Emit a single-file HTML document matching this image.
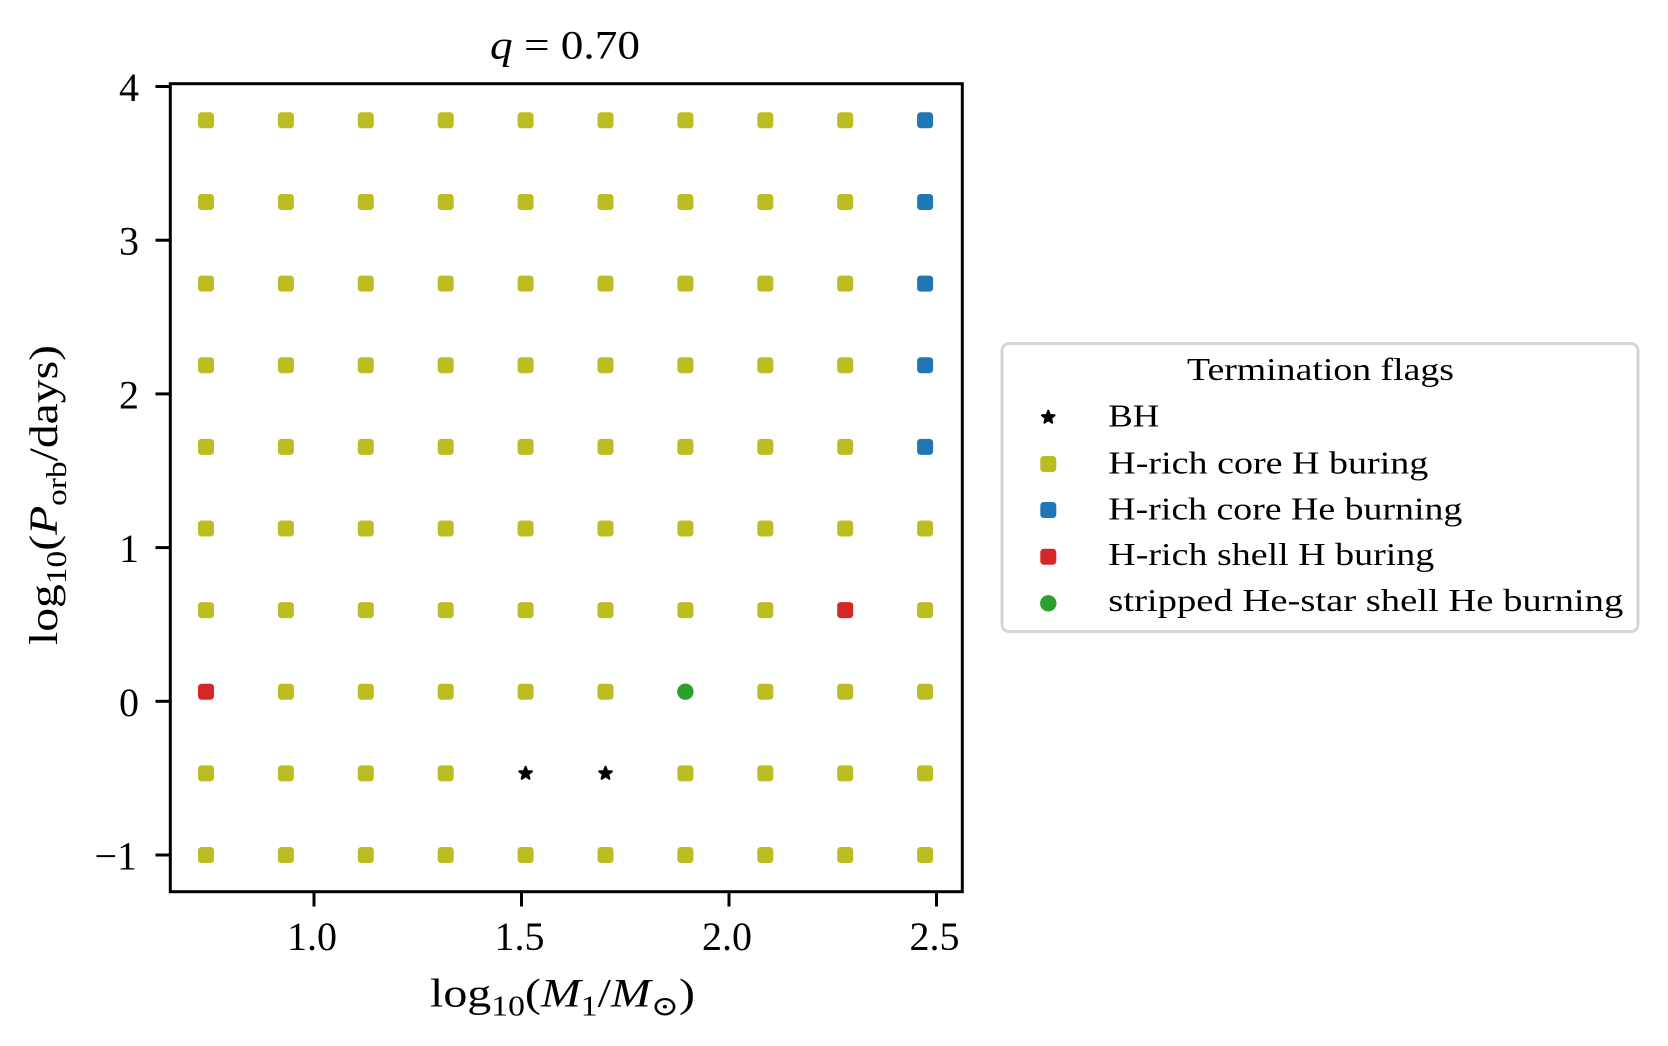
<!DOCTYPE html>
<html>
<head>
<meta charset="utf-8">
<style>
html,body{margin:0;padding:0;background:#fff;}
svg{display:block;}
text{font-family:"Liberation Serif","DejaVu Serif",serif;fill:#000;}
</style>
</head>
<body>
<svg width="1668" height="1046" viewBox="0 0 1668 1046" xmlns="http://www.w3.org/2000/svg">
<rect x="0" y="0" width="1668" height="1046" fill="#fff"/>

<!-- Title -->
<text x="565" y="58.5" font-size="40" text-anchor="middle" textLength="150" lengthAdjust="spacingAndGlyphs"><tspan font-style="italic">q</tspan> = 0.70</text>

<!-- Markers -->
<g id="markers">
<g fill="#bcbd22">
<!-- row 0 y=855 -->
<rect x="198" y="847" width="16" height="16" rx="3.5"/>
<rect x="277.9" y="847" width="16" height="16" rx="3.5"/>
<rect x="357.8" y="847" width="16" height="16" rx="3.5"/>
<rect x="437.7" y="847" width="16" height="16" rx="3.5"/>
<rect x="517.6" y="847" width="16" height="16" rx="3.5"/>
<rect x="597.5" y="847" width="16" height="16" rx="3.5"/>
<rect x="677.4" y="847" width="16" height="16" rx="3.5"/>
<rect x="757.3" y="847" width="16" height="16" rx="3.5"/>
<rect x="837.2" y="847" width="16" height="16" rx="3.5"/>
<rect x="917.1" y="847" width="16" height="16" rx="3.5"/>
<!-- row 1 -->
<rect x="198" y="765.4" width="16" height="16" rx="3.5"/>
<rect x="277.9" y="765.4" width="16" height="16" rx="3.5"/>
<rect x="357.8" y="765.4" width="16" height="16" rx="3.5"/>
<rect x="437.7" y="765.4" width="16" height="16" rx="3.5"/>
<rect x="677.4" y="765.4" width="16" height="16" rx="3.5"/>
<rect x="757.3" y="765.4" width="16" height="16" rx="3.5"/>
<rect x="837.2" y="765.4" width="16" height="16" rx="3.5"/>
<rect x="917.1" y="765.4" width="16" height="16" rx="3.5"/>
<!-- row 2 -->
<rect x="277.9" y="683.7" width="16" height="16" rx="3.5"/>
<rect x="357.8" y="683.7" width="16" height="16" rx="3.5"/>
<rect x="437.7" y="683.7" width="16" height="16" rx="3.5"/>
<rect x="517.6" y="683.7" width="16" height="16" rx="3.5"/>
<rect x="597.5" y="683.7" width="16" height="16" rx="3.5"/>
<rect x="757.3" y="683.7" width="16" height="16" rx="3.5"/>
<rect x="837.2" y="683.7" width="16" height="16" rx="3.5"/>
<rect x="917.1" y="683.7" width="16" height="16" rx="3.5"/>
<!-- row 3 -->
<rect x="198" y="602.1" width="16" height="16" rx="3.5"/>
<rect x="277.9" y="602.1" width="16" height="16" rx="3.5"/>
<rect x="357.8" y="602.1" width="16" height="16" rx="3.5"/>
<rect x="437.7" y="602.1" width="16" height="16" rx="3.5"/>
<rect x="517.6" y="602.1" width="16" height="16" rx="3.5"/>
<rect x="597.5" y="602.1" width="16" height="16" rx="3.5"/>
<rect x="677.4" y="602.1" width="16" height="16" rx="3.5"/>
<rect x="757.3" y="602.1" width="16" height="16" rx="3.5"/>
<rect x="917.1" y="602.1" width="16" height="16" rx="3.5"/>
<!-- row 4 -->
<rect x="198" y="520.5" width="16" height="16" rx="3.5"/>
<rect x="277.9" y="520.5" width="16" height="16" rx="3.5"/>
<rect x="357.8" y="520.5" width="16" height="16" rx="3.5"/>
<rect x="437.7" y="520.5" width="16" height="16" rx="3.5"/>
<rect x="517.6" y="520.5" width="16" height="16" rx="3.5"/>
<rect x="597.5" y="520.5" width="16" height="16" rx="3.5"/>
<rect x="677.4" y="520.5" width="16" height="16" rx="3.5"/>
<rect x="757.3" y="520.5" width="16" height="16" rx="3.5"/>
<rect x="837.2" y="520.5" width="16" height="16" rx="3.5"/>
<rect x="917.1" y="520.5" width="16" height="16" rx="3.5"/>
<!-- row 5 -->
<rect x="198" y="438.9" width="16" height="16" rx="3.5"/>
<rect x="277.9" y="438.9" width="16" height="16" rx="3.5"/>
<rect x="357.8" y="438.9" width="16" height="16" rx="3.5"/>
<rect x="437.7" y="438.9" width="16" height="16" rx="3.5"/>
<rect x="517.6" y="438.9" width="16" height="16" rx="3.5"/>
<rect x="597.5" y="438.9" width="16" height="16" rx="3.5"/>
<rect x="677.4" y="438.9" width="16" height="16" rx="3.5"/>
<rect x="757.3" y="438.9" width="16" height="16" rx="3.5"/>
<rect x="837.2" y="438.9" width="16" height="16" rx="3.5"/>
<!-- row 6 -->
<rect x="198" y="357.2" width="16" height="16" rx="3.5"/>
<rect x="277.9" y="357.2" width="16" height="16" rx="3.5"/>
<rect x="357.8" y="357.2" width="16" height="16" rx="3.5"/>
<rect x="437.7" y="357.2" width="16" height="16" rx="3.5"/>
<rect x="517.6" y="357.2" width="16" height="16" rx="3.5"/>
<rect x="597.5" y="357.2" width="16" height="16" rx="3.5"/>
<rect x="677.4" y="357.2" width="16" height="16" rx="3.5"/>
<rect x="757.3" y="357.2" width="16" height="16" rx="3.5"/>
<rect x="837.2" y="357.2" width="16" height="16" rx="3.5"/>
<!-- row 7 -->
<rect x="198" y="275.6" width="16" height="16" rx="3.5"/>
<rect x="277.9" y="275.6" width="16" height="16" rx="3.5"/>
<rect x="357.8" y="275.6" width="16" height="16" rx="3.5"/>
<rect x="437.7" y="275.6" width="16" height="16" rx="3.5"/>
<rect x="517.6" y="275.6" width="16" height="16" rx="3.5"/>
<rect x="597.5" y="275.6" width="16" height="16" rx="3.5"/>
<rect x="677.4" y="275.6" width="16" height="16" rx="3.5"/>
<rect x="757.3" y="275.6" width="16" height="16" rx="3.5"/>
<rect x="837.2" y="275.6" width="16" height="16" rx="3.5"/>
<!-- row 8 -->
<rect x="198" y="194" width="16" height="16" rx="3.5"/>
<rect x="277.9" y="194" width="16" height="16" rx="3.5"/>
<rect x="357.8" y="194" width="16" height="16" rx="3.5"/>
<rect x="437.7" y="194" width="16" height="16" rx="3.5"/>
<rect x="517.6" y="194" width="16" height="16" rx="3.5"/>
<rect x="597.5" y="194" width="16" height="16" rx="3.5"/>
<rect x="677.4" y="194" width="16" height="16" rx="3.5"/>
<rect x="757.3" y="194" width="16" height="16" rx="3.5"/>
<rect x="837.2" y="194" width="16" height="16" rx="3.5"/>
<!-- row 9 -->
<rect x="198" y="112.3" width="16" height="16" rx="3.5"/>
<rect x="277.9" y="112.3" width="16" height="16" rx="3.5"/>
<rect x="357.8" y="112.3" width="16" height="16" rx="3.5"/>
<rect x="437.7" y="112.3" width="16" height="16" rx="3.5"/>
<rect x="517.6" y="112.3" width="16" height="16" rx="3.5"/>
<rect x="597.5" y="112.3" width="16" height="16" rx="3.5"/>
<rect x="677.4" y="112.3" width="16" height="16" rx="3.5"/>
<rect x="757.3" y="112.3" width="16" height="16" rx="3.5"/>
<rect x="837.2" y="112.3" width="16" height="16" rx="3.5"/>
</g>
<g fill="#1f77b4">
<rect x="917.1" y="438.9" width="16" height="16" rx="3.5"/>
<rect x="917.1" y="357.2" width="16" height="16" rx="3.5"/>
<rect x="917.1" y="275.6" width="16" height="16" rx="3.5"/>
<rect x="917.1" y="194" width="16" height="16" rx="3.5"/>
<rect x="917.1" y="112.3" width="16" height="16" rx="3.5"/>
</g>
<g fill="#d62728">
<rect x="198" y="683.7" width="16" height="16" rx="3.5"/>
<rect x="837.2" y="602.1" width="16" height="16" rx="3.5"/>
</g>
<circle cx="685.4" cy="691.7" r="8.2" fill="#2ca02c"/>
<!-- BH stars -->
<g fill="#000" stroke="#000" stroke-width="2.2" stroke-linejoin="round">
<polygon transform="translate(525.6,773.4)" points="0,-6.5 1.6,-2.2 6.2,-2.0 2.6,0.8 3.8,5.3 0,2.7 -3.8,5.3 -2.6,0.8 -6.2,-2.0 -1.6,-2.2"/>
<polygon transform="translate(605.5,773.4)" points="0,-6.5 1.6,-2.2 6.2,-2.0 2.6,0.8 3.8,5.3 0,2.7 -3.8,5.3 -2.6,0.8 -6.2,-2.0 -1.6,-2.2"/>
</g>
</g>

<!-- Axes frame -->
<rect x="170.3" y="83.7" width="792" height="808" fill="none" stroke="#000" stroke-width="3"/>

<!-- Ticks -->
<g stroke="#000" stroke-width="3">
<line x1="155.5" y1="86.5" x2="170.3" y2="86.5"/>
<line x1="155.5" y1="240.2" x2="170.3" y2="240.2"/>
<line x1="155.5" y1="393.9" x2="170.3" y2="393.9"/>
<line x1="155.5" y1="547.6" x2="170.3" y2="547.6"/>
<line x1="155.5" y1="701.3" x2="170.3" y2="701.3"/>
<line x1="155.5" y1="855" x2="170.3" y2="855"/>
<line x1="314" y1="891.7" x2="314" y2="906.5"/>
<line x1="521.5" y1="891.7" x2="521.5" y2="906.5"/>
<line x1="729" y1="891.7" x2="729" y2="906.5"/>
<line x1="936.5" y1="891.7" x2="936.5" y2="906.5"/>
</g>

<!-- Y tick labels -->
<g font-size="40" text-anchor="end">
<text x="139" y="101">4</text>
<text x="139" y="254.7">3</text>
<text x="139" y="408.4">2</text>
<text x="139" y="562.1">1</text>
<text x="139" y="715.8">0</text>
<text x="137" y="869.5">−1</text>
</g>

<!-- X tick labels -->
<g font-size="40" text-anchor="middle">
<text x="312" y="950">1.0</text>
<text x="519.5" y="950">1.5</text>
<text x="727" y="950">2.0</text>
<text x="934.5" y="950">2.5</text>
</g>

<!-- X label -->
<text x="430" y="1006.5" font-size="40" textLength="265" lengthAdjust="spacingAndGlyphs">log<tspan font-size="28" dy="9">10</tspan><tspan dy="-9">(</tspan><tspan font-style="italic">M</tspan><tspan font-size="28" dy="9">1</tspan><tspan dy="-9">/</tspan><tspan font-style="italic">M</tspan><tspan font-size="28" dy="9">⊙</tspan><tspan dy="-9">)</tspan></text>

<!-- Y label -->
<text transform="translate(57,495) rotate(-90)" x="0" y="0" font-size="40" text-anchor="middle" textLength="300" lengthAdjust="spacingAndGlyphs">log<tspan font-size="28" dy="9">10</tspan><tspan dy="-9">(</tspan><tspan font-style="italic">P</tspan><tspan font-size="28" dy="9">orb</tspan><tspan dy="-9">/days)</tspan></text>

<!-- Legend -->
<rect x="1002" y="343.5" width="636" height="288" rx="7" ry="7" fill="#fff" stroke="#d6d6d6" stroke-width="3"/>
<text x="1320.5" y="380" font-size="32" text-anchor="middle" textLength="267" lengthAdjust="spacingAndGlyphs">Termination flags</text>

<polygon transform="translate(1048.3,417.3)" points="0,-6.5 1.6,-2.2 6.2,-2.0 2.6,0.8 3.8,5.3 0,2.7 -3.8,5.3 -2.6,0.8 -6.2,-2.0 -1.6,-2.2" fill="#000" stroke="#000" stroke-width="2.2" stroke-linejoin="round"/>
<rect x="1040.3" y="456" width="16" height="16" rx="3.5" fill="#bcbd22"/>
<rect x="1040.3" y="502" width="16" height="16" rx="3.5" fill="#1f77b4"/>
<rect x="1040.3" y="548.7" width="16" height="16" rx="3.5" fill="#d62728"/>
<circle cx="1048.3" cy="603.3" r="8.2" fill="#2ca02c"/>

<g font-size="32">
<text x="1108.3" y="426.7" textLength="51" lengthAdjust="spacingAndGlyphs">BH</text>
<text x="1108.3" y="473.3" textLength="320" lengthAdjust="spacingAndGlyphs">H-rich core H buring</text>
<text x="1108.3" y="519.3" textLength="354" lengthAdjust="spacingAndGlyphs">H-rich core He burning</text>
<text x="1108.3" y="565" textLength="326" lengthAdjust="spacingAndGlyphs">H-rich shell H buring</text>
<text x="1108.3" y="611" textLength="515" lengthAdjust="spacingAndGlyphs">stripped He-star shell He burning</text>
</g>
</svg>
</body>
</html>
